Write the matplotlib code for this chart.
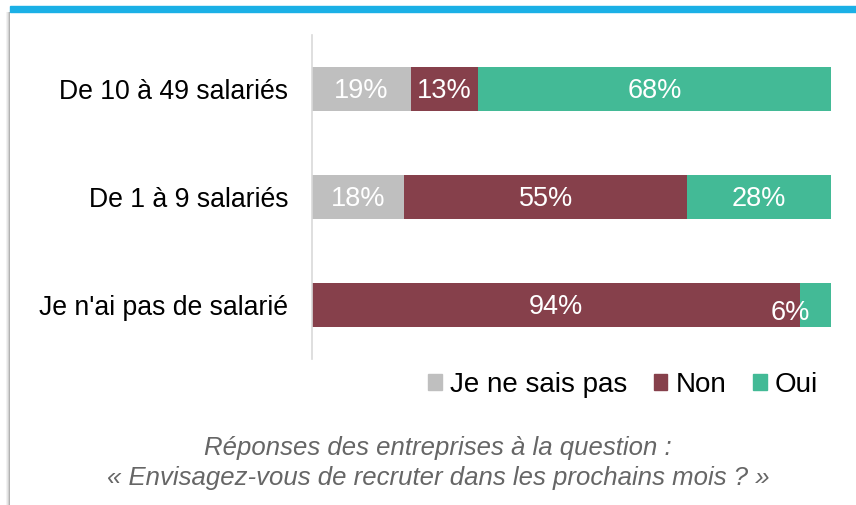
import matplotlib
matplotlib.use("Agg")
import matplotlib.pyplot as plt
import numpy as np
from matplotlib.patches import Rectangle

categories = ["Je n'ai pas de salarié", "De 1 à 9 salariés", "De 10 à 49 salariés"]
series_names = ["Je ne sais pas", "Non", "Oui"]
ne_sais_pas = [0, 18, 19]
non = [94, 55, 13]
oui = [6, 28, 68]
colors = ["#BFBFBF", "#86404B", "#43BA96"]
caption = "Réponses des entreprises à la question :\n« Envisagez-vous de recruter dans les prochains mois ? »"

plt.rcParams['font.family'] = ['Liberation Sans', 'DejaVu Sans']

fig = plt.figure(figsize=(8.56, 5.05), dpi=100)
W, H = 856, 505
ax = fig.add_axes([312 / W, 1 - 359 / H, (831 - 312) / W, (359 - 35) / H])

data = np.array([ne_sais_pas, non, oui], dtype=float)
totals = data.sum(axis=0)
shares = data / totals * 100
y = np.arange(len(categories))
left = np.zeros(len(categories))
for i, name in enumerate(series_names):
    bars = ax.barh(y, shares[i], left=left, height=0.4, color=colors[i],
                   label=name, edgecolor='none')
    for j, b in enumerate(bars):
        v = data[i][j]
        if v <= 0:
            continue
        cx = left[j] + shares[i][j] / 2
        dx, dy = 0, -2
        if v < 10:
            dx, dy = -25, -8
        ax.annotate(f"{int(v)}%", (cx, y[j]), xytext=(dx, dy), textcoords='offset pixels',
                    ha='center', va='center', color='white', fontsize=19.5)
    left += shares[i]

ax.set_xlim(0, 100)
ax.set_ylim(-0.5, 2.5)
ax.set_yticks(y)
ax.set_yticklabels(categories, fontsize=19.2)
ax.tick_params(axis='y', length=0, pad=17)
ax.set_xticks([])
for s in ['top', 'right', 'bottom']:
    ax.spines[s].set_visible(False)
ax.spines['left'].set_color('#D9D9D9')
ax.spines['left'].set_linewidth(1.2)

handles = [Rectangle((0, 0), 1, 1, color=c) for c in colors]
fig.legend(handles, series_names, loc='center', bbox_to_anchor=(623 / W, 1 - 385 / H),
           ncol=3, frameon=False, fontsize=20, handlelength=0.5, handleheight=0.5,
           handletextpad=0.3, columnspacing=0.95, borderaxespad=0, borderpad=0)

fig.text(438 / W, 1 - 463 / H, caption, ha='center', va='center', style='italic',
         color='#666666', fontsize=18.5, linespacing=1.3)

# top blue band and left shadow
fig.patches.append(Rectangle((10 / W, 1 - 12 / H), 1 - 10 / W, 6 / H, transform=fig.transFigure,
                             color='#1BB0E6', zorder=5))
for k, a in enumerate([0.05, 0.1, 0.18, 0.3]):
    fig.patches.append(Rectangle(((6 + k) / W, 0), 1 / W, 1 - 12 / H, transform=fig.transFigure,
                                 color='black', alpha=a, linewidth=0, zorder=5))

fig.savefig("out.png", dpi=100)
